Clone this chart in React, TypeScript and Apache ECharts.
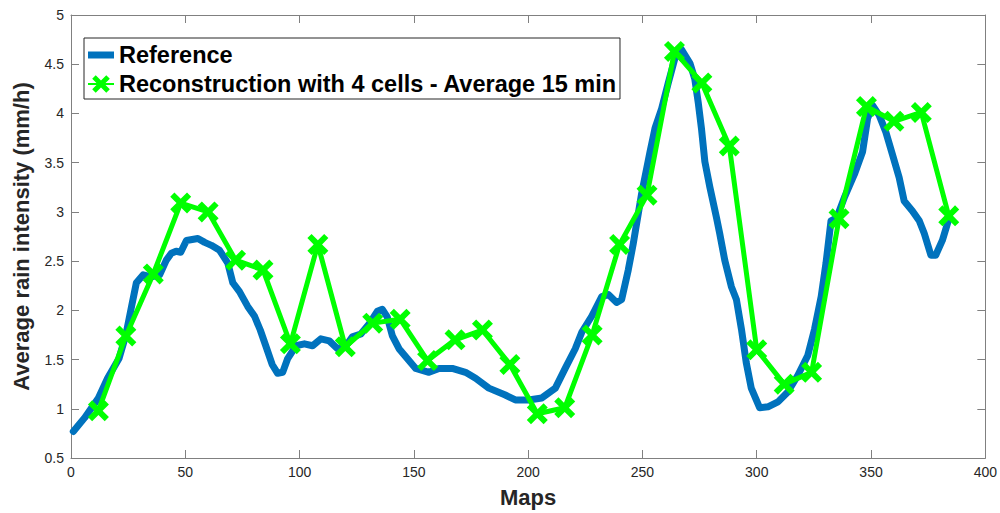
import React, { useEffect, useRef } from "react";
import * as echarts from "echarts";

// Reference (blue) trace: map index and average rain intensity
const refMaps = [
  1, 6, 12, 16, 21, 24, 26.5, 28.6, 31.6, 35.2, 38.8, 41.7, 43.9, 46, 48, 50.5, 55.5, 58.5, 61.4, 65,
  68.6, 70.8, 73.7, 77.3, 80.3, 82.8, 85.5, 88, 90.4, 92.6, 94.8, 98.4, 102.1, 105.7, 109.3, 113, 116.6,
  120.3, 123.1, 126.8, 130.4, 134, 136.2, 138.4, 140.6, 143.5, 147.1, 150.8, 156.6, 161, 166.8, 172.6,
  177, 182.8, 190, 194.4, 200.2, 206, 211.9, 216.2, 220.6, 223.5, 227.8, 232.2, 235.1, 238.7, 240.9,
  243.8, 246, 249.6, 253.3, 255.5, 258.4, 261.3, 264.9, 267.1, 270.8, 272.9, 274.4, 275.8, 277.3,
  279.5, 282.4, 283.8, 286, 288.9, 291.1, 293.3, 295.4, 297.6, 301.3, 304.9, 309.3, 313.6, 318,
  322.3, 325.3, 328.2, 330.3, 332.5, 335, 338.4, 342.7, 346.3, 348.5, 350.7, 353.6, 356.5, 359.4,
  362.3, 364.5, 368.1, 371.1, 373.3, 376.2, 378.3, 381.2, 384.2,
];
const refValues = [
  0.77, 0.91, 1.11, 1.31, 1.51, 1.75, 2.04, 2.28, 2.36, 2.34, 2.36, 2.51, 2.58, 2.6, 2.59, 2.71, 2.73,
  2.69, 2.66, 2.61, 2.48, 2.28, 2.19, 2.04, 1.94, 1.8, 1.62, 1.45, 1.36, 1.37, 1.51, 1.64, 1.66, 1.64,
  1.71, 1.69, 1.61, 1.64, 1.73, 1.76, 1.86, 1.99, 2.01, 1.93, 1.74, 1.61, 1.51, 1.41, 1.37, 1.41, 1.41,
  1.37, 1.31, 1.21, 1.14, 1.09, 1.09, 1.11, 1.21, 1.41, 1.61, 1.78, 1.94, 2.14, 2.16, 2.08, 2.11, 2.41,
  2.68, 3.18, 3.61, 3.85, 4.05, 4.31, 4.62, 4.65, 4.51, 4.35, 4.11, 3.85, 3.51, 3.25, 2.94, 2.78, 2.51,
  2.24, 2.11, 1.81, 1.47, 1.21, 1.01, 1.02, 1.07, 1.17, 1.34, 1.54, 1.81, 2.14, 2.48, 2.91, 2.94, 3.15,
  3.38, 3.61, 3.95, 4.08, 3.98, 3.81, 3.58, 3.35, 3.11, 3.01, 2.91, 2.78, 2.56, 2.56, 2.71, 2.94,
];

// Reconstruction (green) every 12 maps
const recMaps = [
  12, 24, 36, 48, 60, 72, 84, 96, 108, 120, 132, 144, 156, 168, 180, 192, 204, 216, 228, 240, 252,
  264, 276, 288, 300, 312, 324, 336, 348, 360, 372, 384,
];
const recValues = [
  0.98, 1.74, 2.37, 3.09, 3.0, 2.51, 2.41, 1.66, 2.67, 1.63, 1.87, 1.91, 1.49, 1.7, 1.8, 1.45, 0.95,
  1.01, 1.75, 2.67, 3.17, 4.63, 4.31, 3.67, 1.6, 1.25, 1.37, 2.93, 4.07, 3.92, 4.01, 2.96,
];

const seriesNames = ["Reference", "Reconstruction with 4 cells - Average 15 min"];
const xTicks = { min: 0, max: 400, interval: 50 };
const yTicks = { min: 0.5, max: 5, interval: 0.5 };

const X_PATH =
  "path://M0,4 L4,0 L10,6 L16,0 L20,4 L14,10 L20,16 L16,20 L10,14 L4,20 L0,16 L6,10 Z";
const BAR_PATH = "path://M0,0 L26,0 L26,7 L0,7 Z";

export default function App() {
  const ref = useRef<HTMLDivElement>(null);
  useEffect(() => {
    if (!ref.current) return;
    const chart = echarts.init(ref.current, null, { renderer: "svg" });
    const axisColor = "#808080";
    const labelColor = "#262626";
    const font = "'Liberation Sans', Arial, Helvetica, sans-serif";
    const tick = { show: true, inside: true, length: 8, lineStyle: { color: axisColor } };
    chart.setOption({
      animation: false,
      backgroundColor: "#fff",
      textStyle: { fontFamily: font },
      grid: { left: 71, right: 12, top: 15, bottom: 49, containLabel: false },
      legend: {
        left: 84,
        top: 38,
        orient: "vertical",
        data: [{ name: seriesNames[0], icon: BAR_PATH }, { name: seriesNames[1] }],
        borderColor: "#262626",
        borderWidth: 1,
        padding: [5, 3, 3, 3],
        itemGap: 5,
        itemWidth: 26,
        itemHeight: 22,
        backgroundColor: "#fff",
        textStyle: { fontSize: 23.5, fontWeight: "bold", color: "#000", fontFamily: font },
      },
      xAxis: [
        {
          type: "value",
          ...xTicks,
          position: "bottom",
          name: "Maps",
          nameLocation: "middle",
          nameGap: 28,
          nameTextStyle: { fontSize: 22, fontWeight: "bold", color: labelColor, fontFamily: font },
          axisLine: { show: true, lineStyle: { color: axisColor, width: 1 } },
          axisTick: tick,
          axisLabel: { fontSize: 14, color: labelColor, margin: 7, fontFamily: font },
          splitLine: { show: false },
        },
        {
          type: "value",
          ...xTicks,
          position: "top",
          axisLine: { show: true, onZero: false, lineStyle: { color: axisColor, width: 1 } },
          axisTick: tick,
          axisLabel: { show: false },
          splitLine: { show: false },
        },
      ],
      yAxis: [
        {
          type: "value",
          ...yTicks,
          position: "left",
          name: "Average rain intensity (mm/h)",
          nameLocation: "middle",
          nameGap: 39,
          nameTextStyle: { fontSize: 22, fontWeight: "bold", color: labelColor, fontFamily: font },
          axisLine: { show: true, onZero: false, lineStyle: { color: axisColor, width: 1 } },
          axisTick: tick,
          axisLabel: { fontSize: 14, color: labelColor, margin: 7, fontFamily: font },
          splitLine: { show: false },
        },
        {
          type: "value",
          ...yTicks,
          position: "right",
          axisLine: { show: true, onZero: false, lineStyle: { color: axisColor, width: 1 } },
          axisTick: tick,
          axisLabel: { show: false },
          splitLine: { show: false },
        },
      ],
      series: [
        {
          name: seriesNames[0],
          type: "line",
          xAxisIndex: 0,
          yAxisIndex: 0,
          data: refMaps.map((m, i) => [m, refValues[i]]),
          symbol: "none",
          itemStyle: { color: "#0072BD" },
          lineStyle: { color: "#0072BD", width: 7, cap: "round", join: "round" },
          z: 2,
        },
        {
          name: seriesNames[1],
          type: "line",
          xAxisIndex: 0,
          yAxisIndex: 0,
          data: recMaps.map((m, i) => [m, recValues[i]]),
          symbol: X_PATH,
          symbolSize: 21,
          itemStyle: { color: "#00FF00" },
          lineStyle: { color: "#00FF00", width: 5, join: "round" },
          z: 3,
        },
      ],
    });
    return () => chart.dispose();
  }, []);
  return (
    <div
      ref={ref}
      style={{ position: "fixed", left: 0, top: 0, width: 1000, height: 513, background: "#fff" }}
    />
  );
}
